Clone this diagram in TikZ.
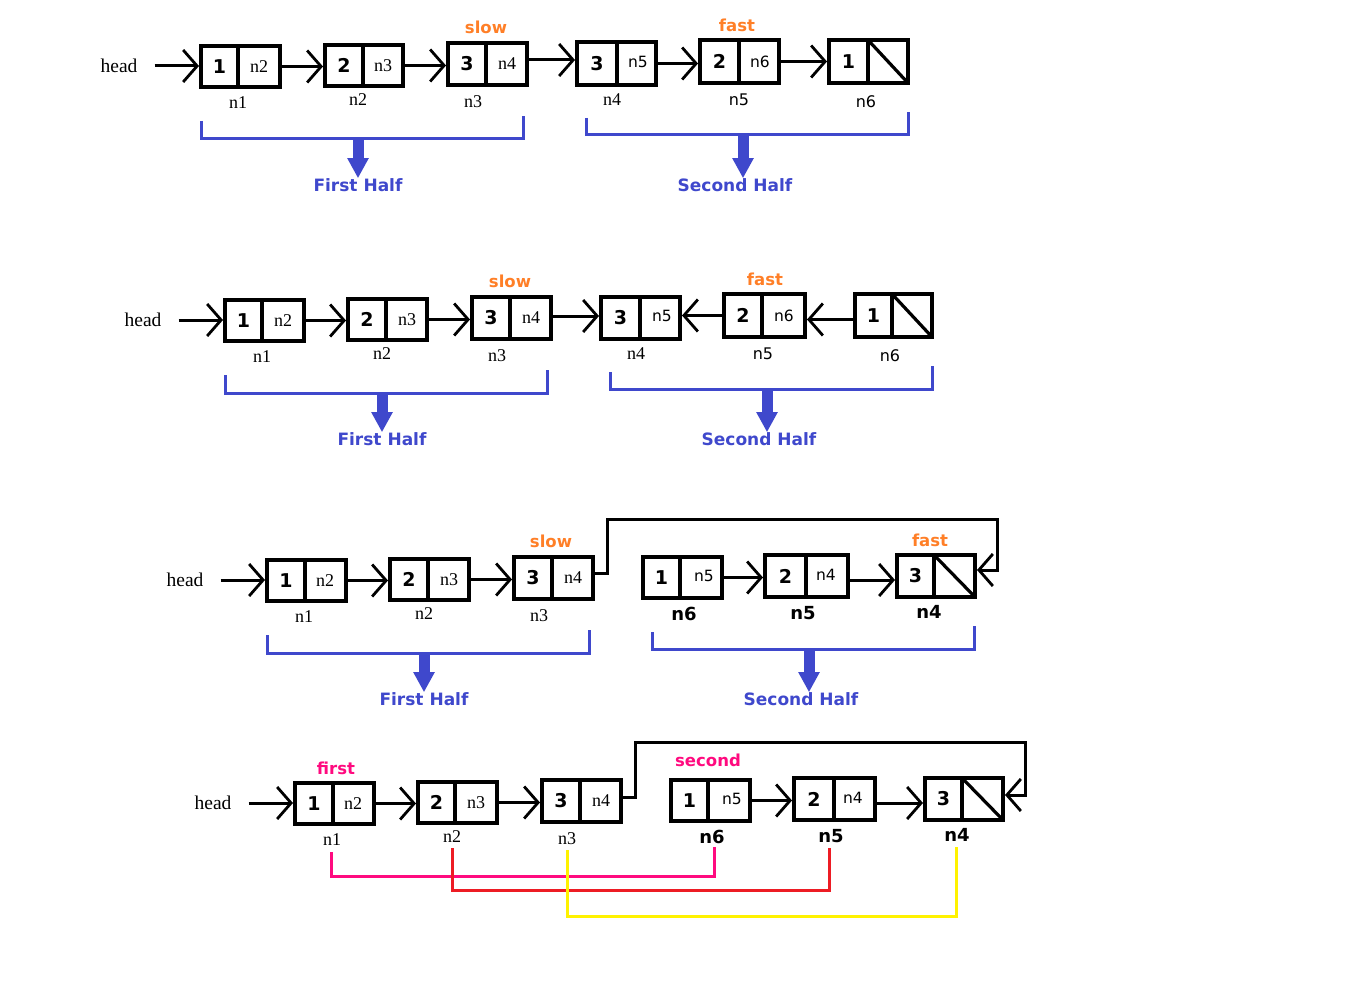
\documentclass[tikz,border=0pt]{standalone}
\usepackage{fontspec}
\setmainfont{Liberation Serif}
\newfontfamily\ser{Liberation Serif}
\newfontfamily\sa{DejaVu Sans}
\usetikzlibrary{arrows.meta}
\definecolor{bblue}{HTML}{3F48CC}
\definecolor{orng}{HTML}{FF7F27}
\definecolor{mgnt}{HTML}{FF0A7F}
\definecolor{rred}{HTML}{ED1C24}
\definecolor{yllw}{HTML}{FFF200}
\tikzset{
  boxframe/.style={draw=black, line width=4pt, inner sep=0pt, rectangle},
  divline/.style={draw=black, line width=3.2pt},
  numtxt/.style={font=\sa\bfseries\fontsize{19}{20}\selectfont, inner sep=0pt},
  sertxt/.style={font=\ser\fontsize{18}{20}\selectfont, inner sep=0pt},
  sanstxt/.style={font=\sa\fontsize{15.5}{17}\selectfont, inner sep=0pt},
  lblser/.style={font=\ser\fontsize{18}{20}\selectfont, inner sep=0pt},
  lblsans/.style={font=\sa\fontsize{16}{18}\selectfont, inner sep=0pt},
  lblbold/.style={font=\sa\bfseries\fontsize{18}{19}\selectfont, inner sep=0pt},
  headtxt/.style={font=\ser\fontsize{19.5}{21}\selectfont, inner sep=0pt},
  ptrtxt/.style={font=\sa\bfseries\fontsize{16.5}{18}\selectfont, inner sep=0pt, text=orng},
  ptrmag/.style={font=\sa\bfseries\fontsize{16.5}{18}\selectfont, inner sep=0pt, text=mgnt},
  halftxt/.style={font=\sa\bfseries\fontsize{17}{18}\selectfont, inner sep=0pt, text=bblue},
  larrow/.style={draw=black, line width=3pt, -{Straight Barb[length=14pt,width=32pt,line width=2.8pt]}},
  bracketline/.style={draw=bblue, line width=3pt},
  bigarrow/.style={draw=bblue, line width=11pt, -{Triangle[length=20pt,width=20pt]}},
  pairline/.style={line width=3pt},
}
% #1 name, #2 x1, #3 y1, #4 xdiv, #5 x2, #6 y2, #7 number, #8 right text node spec
\newcommand\cellpair[8]{%
  \node[boxframe, minimum width={#5-#2}, minimum height={#6-#3}] (#1) at ({(#2+#5)/2},{(#3+#6)/2}) {};
  \draw[divline] (#4,#3) -- (#4,#6);
  \node[numtxt] (#1v) at ({(#2+#4)/2},{(#3+#6)/2}) {#7};
  \node #8;
}
\newcommand\nullpair[7]{%
  \node[boxframe, minimum width={#5-#2}, minimum height={#6-#3}] (#1) at ({(#2+#5)/2},{(#3+#6)/2}) {};
  \draw[divline] (#4,#3) -- (#4,#6);
  \draw[divline] (#4,#3) -- (#5,#6);
  \node[numtxt] (#1v) at ({(#2+#4)/2},{(#3+#6)/2}) {#7};
}
\begin{document}
\begin{tikzpicture}[x=1pt,y=-1pt]
\useasboundingbox[fill=white] (0,0) rectangle (1360,987);

% ---------------- Row 1 ----------------
\node[headtxt] (h1) at (119,66) {head};
\cellpair{ra}{201}{46}{238}{280}{87}{1}{[sertxt] (rap) at (259,66.5) {n2}}
\cellpair{rb}{325}{45}{363}{403}{86}{2}{[sertxt] (rbp) at (383,65.5) {n3}}
\cellpair{rc}{448}{43}{486}{527}{85}{3}{[sertxt] (rcp) at (507,64) {n4}}
\cellpair{rd}{577}{42}{617}{656}{85}{3}{[sanstxt] (rdp) at (638,62) {n5}}
\cellpair{re}{700}{40}{739}{779}{83}{2}{[sanstxt] (rep) at (760,61.5) {n6}}
\nullpair{rf}{829}{40}{868}{908}{83}{1}
\node[lblser] (ral) at (238,103) {n1};
\node[lblser] (rbl) at (358,100) {n2};
\node[lblser] (rcl) at (473,102) {n3};
\node[lblser] (rdl) at (612,100) {n4};
\node[lblsans] (rel) at (739,100) {n5};
\node[lblsans] (rfl) at (866,102) {n6};
\node[ptrtxt] (slow1) at (486,27) {slow};
\node[ptrtxt] (fast1) at (737,25) {fast};
\draw[larrow] ([xshift=17pt]h1.east) -- (h1.east -| ra.west);
\draw[larrow] (ra.east) -- (ra.east -| rb.west);
\draw[larrow] (rb.east) -- (rb.east -| rc.west);
\draw[larrow] ([yshift=4pt]rc.east) -- ([yshift=4pt]rc.east -| rd.west);
\draw[larrow] (rd.east) -- (rd.east -| re.west);
\draw[larrow] (re.east) -- (re.east -| rf.west);
\draw[bracketline] (201,121) -- (201,139) -- (523,139) -- (523,116);
\node[halftxt] (fh1) at (358,185) {First Half};
\coordinate (fh1top) at (358,139);
\draw[bigarrow] (fh1top) -- (fh1.north -| fh1top);
\draw[bracketline] (586,118) -- (586,135) -- (908,135) -- (908,112);
\node[halftxt] (sh1) at (735,185) {Second Half};
\coordinate (sh1top) at (743,135);
\draw[bigarrow] (sh1top) -- (sh1.north -| sh1top);

% ---------------- Row 2 ----------------
\node[headtxt] (h2) at (143,320) {head};
\cellpair{sa}{225}{300}{262}{304}{341}{1}{[sertxt] (sap) at (283,320.5) {n2}}
\cellpair{sb}{348}{299}{386}{427}{340}{2}{[sertxt] (sbp) at (407,319.5) {n3}}
\cellpair{sc}{472}{297}{510}{551}{339}{3}{[sertxt] (scp) at (531,318) {n4}}
\cellpair{sd}{601}{297}{640}{680}{339}{3}{[sanstxt] (sdp) at (662,316) {n5}}
\cellpair{se}{724}{294}{762}{805}{337}{2}{[sanstxt] (sep) at (784,315.5) {n6}}
\nullpair{sf}{855}{294}{892}{932}{337}{1}
\node[lblser] (sal) at (262,357) {n1};
\node[lblser] (sbl) at (382,354) {n2};
\node[lblser] (scl) at (497,356) {n3};
\node[lblser] (sdl) at (636,354) {n4};
\node[lblsans] (sel) at (763,354) {n5};
\node[lblsans] (sfl) at (890,356) {n6};
\node[ptrtxt] (slow2) at (510,281) {slow};
\node[ptrtxt] (fast2) at (765,279) {fast};
\draw[larrow] ([xshift=17pt]h2.east) -- (h2.east -| sa.west);
\draw[larrow] (sa.east) -- (sa.east -| sb.west);
\draw[larrow] (sb.east) -- (sb.east -| sc.west);
\draw[larrow] ([yshift=2pt]sc.east) -- ([yshift=2pt]sc.east -| sd.west);
\draw[larrow] (se.west) -- (se.west -| sd.east);
\draw[larrow] ([yshift=-4pt]sf.west) -- ([yshift=-4pt]sf.west -| se.east);
\draw[bracketline] (225,375) -- (225,393) -- (547,393) -- (547,370);
\node[halftxt] (fh2) at (382,439) {First Half};
\coordinate (fh2top) at (382,393);
\draw[bigarrow] (fh2top) -- (fh2.north -| fh2top);
\draw[bracketline] (610,372) -- (610,389) -- (932,389) -- (932,366);
\node[halftxt] (sh2) at (759,439) {Second Half};
\coordinate (sh2top) at (767,389);
\draw[bigarrow] (sh2top) -- (sh2.north -| sh2top);

% ---------------- Row 3 ----------------
\node[headtxt] (h3) at (185,580) {head};
\cellpair{ta}{267}{560}{305}{346}{601}{1}{[sertxt] (tap) at (325,580.5) {n2}}
\cellpair{tb}{390}{559}{428}{469}{600}{2}{[sertxt] (tbp) at (449,579.5) {n3}}
\cellpair{tc}{514}{557}{552}{593}{599}{3}{[sertxt] (tcp) at (573,578) {n4}}
\cellpair{td}{643}{557}{680}{722}{598}{1}{[sanstxt] (tdp) at (704,576) {n5}}
\cellpair{te}{765}{555}{806}{848}{597}{2}{[sanstxt] (tep) at (826,575) {n4}}
\nullpair{tf}{897}{555}{934}{975}{597}{3}
\node[lblser] (tal) at (304,617) {n1};
\node[lblser] (tbl) at (424,614) {n2};
\node[lblser] (tcl) at (539,616) {n3};
\node[lblbold] (tdl) at (684,614) {n6};
\node[lblbold] (tel) at (803,613) {n5};
\node[lblbold] (tfl) at (929,612) {n4};
\node[ptrtxt] (slow3) at (551,541) {slow};
\node[ptrtxt] (fast3) at (930,540) {fast};
\draw[larrow] ([xshift=17pt]h3.east) -- (h3.east -| ta.west);
\draw[larrow] (ta.east) -- (ta.east -| tb.west);
\draw[larrow] (tb.east) -- (tb.east -| tc.west);
\draw[larrow] (td.east) -- (td.east -| te.west);
\draw[larrow] ([yshift=-4pt]te.east) -- ([yshift=-4pt]te.east -| tf.west);
\coordinate (tloop) at (997,519);
\draw[larrow] ([yshift=5pt]tc.east) -- ++(12,0) |- (tloop) |- ([yshift=6pt]tf.east);
\draw[bracketline] (267,635) -- (267,653) -- (589,653) -- (589,630);
\node[halftxt] (fh3) at (424,699) {First Half};
\coordinate (fh3top) at (424,653);
\draw[bigarrow] (fh3top) -- (fh3.north -| fh3top);
\draw[bracketline] (652,632) -- (652,649) -- (974,649) -- (974,626);
\node[halftxt] (sh3) at (801,699) {Second Half};
\coordinate (sh3top) at (809,649);
\draw[bigarrow] (sh3top) -- (sh3.north -| sh3top);

% ---------------- Row 4 ----------------
\node[headtxt] (h4) at (213,803) {head};
\cellpair{ua}{295}{783}{333}{374}{824}{1}{[sertxt] (uap) at (353,803.5) {n2}}
\cellpair{ub}{418}{782}{455}{497}{823}{2}{[sertxt] (ubp) at (476,802.5) {n3}}
\cellpair{uc}{542}{780}{580}{621}{822}{3}{[sertxt] (ucp) at (601,801) {n4}}
\cellpair{ud}{671}{780}{708}{750}{821}{1}{[sanstxt] (udp) at (732,799) {n5}}
\cellpair{ue}{794}{778}{834}{875}{820}{2}{[sanstxt] (uep) at (853,798) {n4}}
\nullpair{uf}{925}{778}{962}{1003}{820}{3}
\node[lblser] (ual) at (332,840) {n1};
\node[lblser] (ubl) at (452,837) {n2};
\node[lblser] (ucl) at (567,839) {n3};
\node[lblbold] (udl) at (712,837) {n6};
\node[lblbold] (uel) at (831,836) {n5};
\node[lblbold] (ufl) at (957,835) {n4};
\node[ptrmag] (first4) at (336,768) {first};
\node[ptrmag] (second4) at (708,760) {second};
\draw[larrow] ([xshift=17pt]h4.east) -- (h4.east -| ua.west);
\draw[larrow] (ua.east) -- (ua.east -| ub.west);
\draw[larrow] (ub.east) -- (ub.east -| uc.west);
\draw[larrow] (ud.east) -- (ud.east -| ue.west);
\draw[larrow] ([yshift=-4pt]ue.east) -- ([yshift=-4pt]ue.east -| uf.west);
\coordinate (uloop) at (1025,742);
\draw[larrow] ([yshift=4pt]uc.east) -- ++(12,0) |- (uloop) |- ([yshift=4pt]uf.east);
% pairing lines
\draw[pairline, draw=mgnt] (331,852) |- (714,876) -- (714,847);
\draw[pairline, draw=rred] (452,848) |- (829,890) -- (829,848);
\draw[pairline, draw=yllw] (567,850) |- (956,916) -- (956,847);
\end{tikzpicture}
\end{document}
